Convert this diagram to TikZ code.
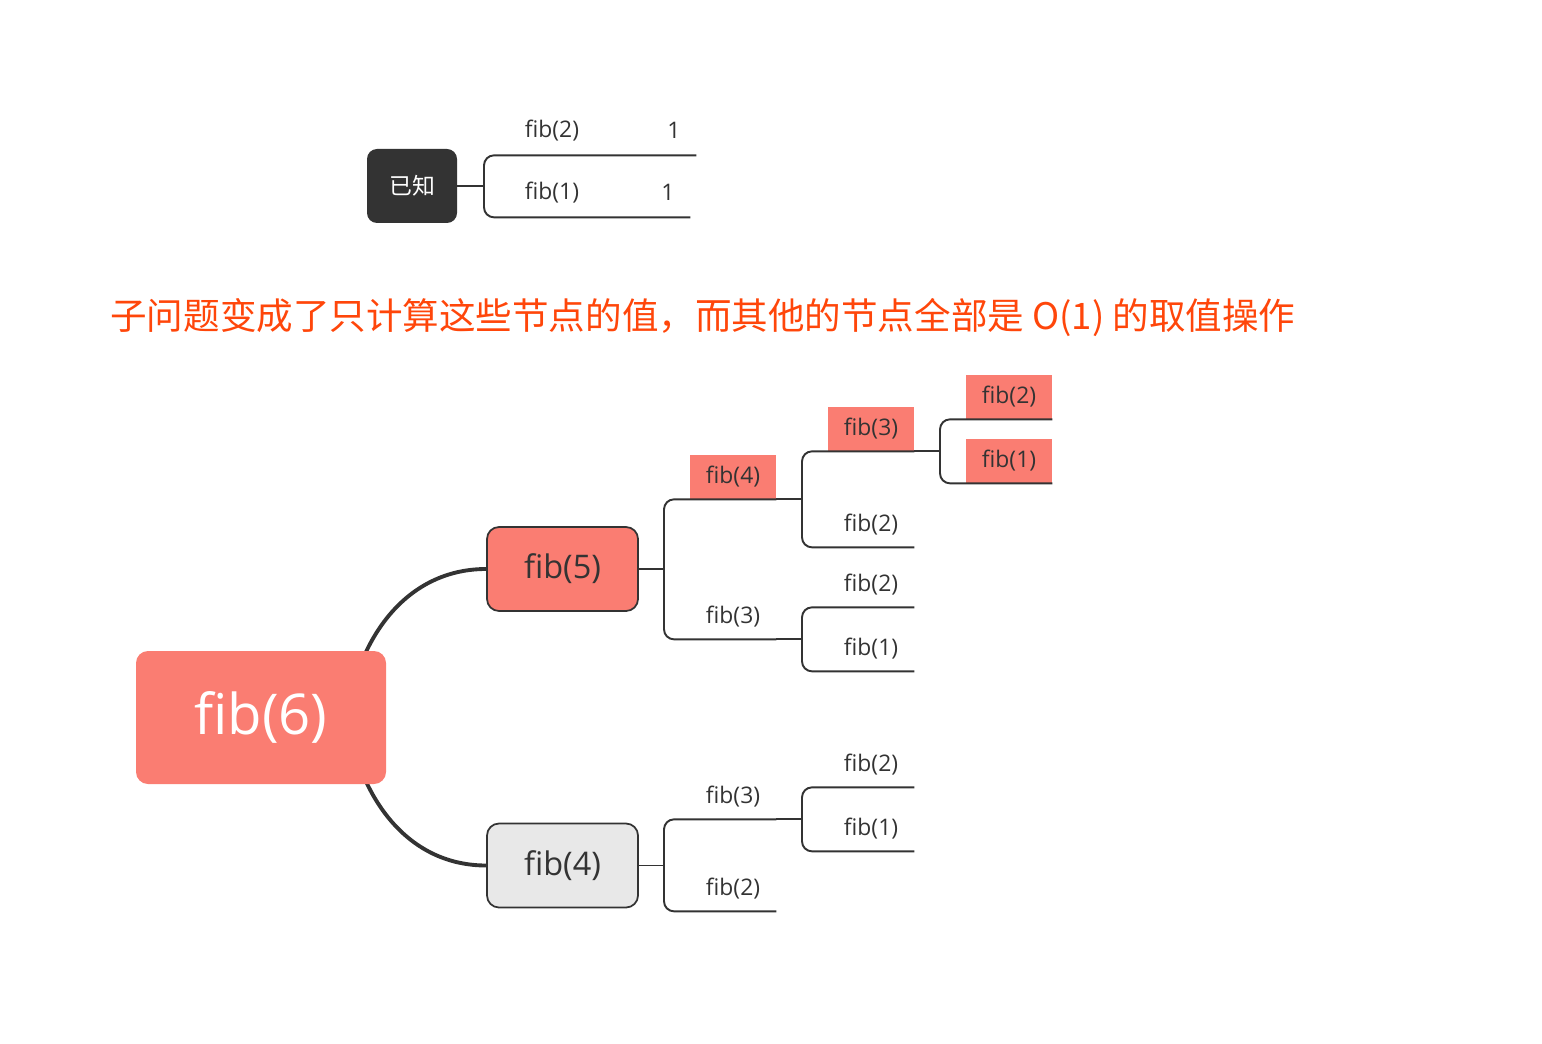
\documentclass[tikz,border=0pt]{standalone}
\usepackage{fontspec}
\setmainfont{Open Sans}
\newfontfamily\cjk{Noto Sans CJK SC}
\usetikzlibrary{backgrounds}
\definecolor{salmonred}{RGB}{250,125,114}
\definecolor{inkgray}{RGB}{51,51,51}
\definecolor{palegray}{RGB}{232,232,232}
\definecolor{titlered}{RGB}{255,70,10}
\begin{document}
\begin{tikzpicture}[
    known/.style={rounded corners=0.2cm, fill=inkgray, text=white, minimum width=1.8cm, minimum height=1.48cm, font=\cjk\fontsize{13}{15}\selectfont},
    knownrow/.style={minimum width=0.88cm, minimum height=1cm, inner sep=0pt, text=inkgray, font=\fontsize{13}{15}\selectfont},
    root/.style={rounded corners=0.24cm, fill=salmonred, text=white, minimum width=5cm, minimum height=2.66cm, font=\fontsize{32}{38}\selectfont},
    topic/.style={rounded corners=0.24cm, draw=inkgray, line width=1pt, text=inkgray, minimum width=3.02cm, minimum height=1.68cm, font=\fontsize{18.5}{22}\selectfont},
    leaf/.style={minimum width=1.72cm, minimum height=0.88cm, inner sep=0pt, text=inkgray, font=\fontsize{13}{15}\selectfont},
    hot/.style={leaf, fill=salmonred},
    limb/.style={draw=inkgray, line width=2.2pt},
    twig/.style={draw=inkgray, line width=1.1pt}
]
    \useasboundingbox (0,0) rectangle (30.84,-20.88);

    % Known values
    \node[known] (known) at (8.24,-3.72) {已知};
    \node[knownrow] (k2) at (11.04,-2.62) {fib(2)};
    \node[knownrow] (k2v) at (13.48,-2.6) {1};
    \node[knownrow] (k1) at (11.04,-3.86) {fib(1)};
    \node[knownrow] (k1v) at (13.36,-3.84) {1};

    % Remark
    \node[anchor=west, inner sep=0pt, text=titlered, font=\cjk\fontsize{20.8}{25}\selectfont] (remark) at (2.2,-6.36)
        {子问题变成了只计算这些节点的值，而其他的节点全部是 O(1) 的取值操作};

    % Tree
    \node[root] (fib6) at (5.22,-14.35) {fib(6)};
    \node[topic, fill=salmonred] (fib5) at (11.25,-11.38) {fib(5)};
    \node[topic, fill=palegray] (fib4) at (11.25,-17.31) {fib(4)};

    \node[hot] (a4) at (14.66,-9.54) {fib(4)};
    \node[leaf] (a3) at (14.66,-12.34) {fib(3)};
    \node[leaf] (c3) at (14.66,-15.94) {fib(3)};
    \node[leaf] (c2) at (14.66,-17.78) {fib(2)};

    \node[hot] (b3) at (17.42,-8.58) {fib(3)};
    \node[leaf] (b2) at (17.42,-10.5) {fib(2)};
    \node[leaf] (d2) at (17.42,-11.7) {fib(2)};
    \node[leaf] (d1) at (17.42,-12.98) {fib(1)};
    \node[leaf] (e2) at (17.42,-15.3) {fib(2)};
    \node[leaf] (e1) at (17.42,-16.58) {fib(1)};

    \node[hot] (g2) at (20.18,-7.94) {fib(2)};
    \node[hot] (g1) at (20.18,-9.22) {fib(1)};

    % Bracket columns
    \coordinate (xk) at (9.68,0);
    \coordinate (x1) at (13.28,0);
    \coordinate (x2) at (16.04,0);
    \coordinate (x3) at (18.8,0);
    \coordinate (r5) at (7.0,-14.0);
    \coordinate (r4) at (7.0,-14.66);

    % Main branches
    \begin{scope}[on background layer]
        \draw[limb] (r5) to[out=78, in=180] (fib5.west);
        \draw[limb] (r4) to[out=-78, in=180] (fib4.west);
    \end{scope}

    % Brackets
    \foreach \p/\x/\a/\b in {known.east/xk/k2v/k1v, fib5.east/x1/a4/a3, fib4.east/x1/c3/c2,
                             a4.south east/x2/b3/b2, a3.south east/x2/d2/d1, c3.south east/x2/e2/e1,
                             b3.south east/x3/g2/g1} {
        \draw[twig] (\p) -- (\p -| \x);
        \draw[twig, rounded corners=0.2cm] (\a.south east) -- (\a.south -| \x) -- (\b.south -| \x) -- (\b.south east);
    }
\end{tikzpicture}
\end{document}
